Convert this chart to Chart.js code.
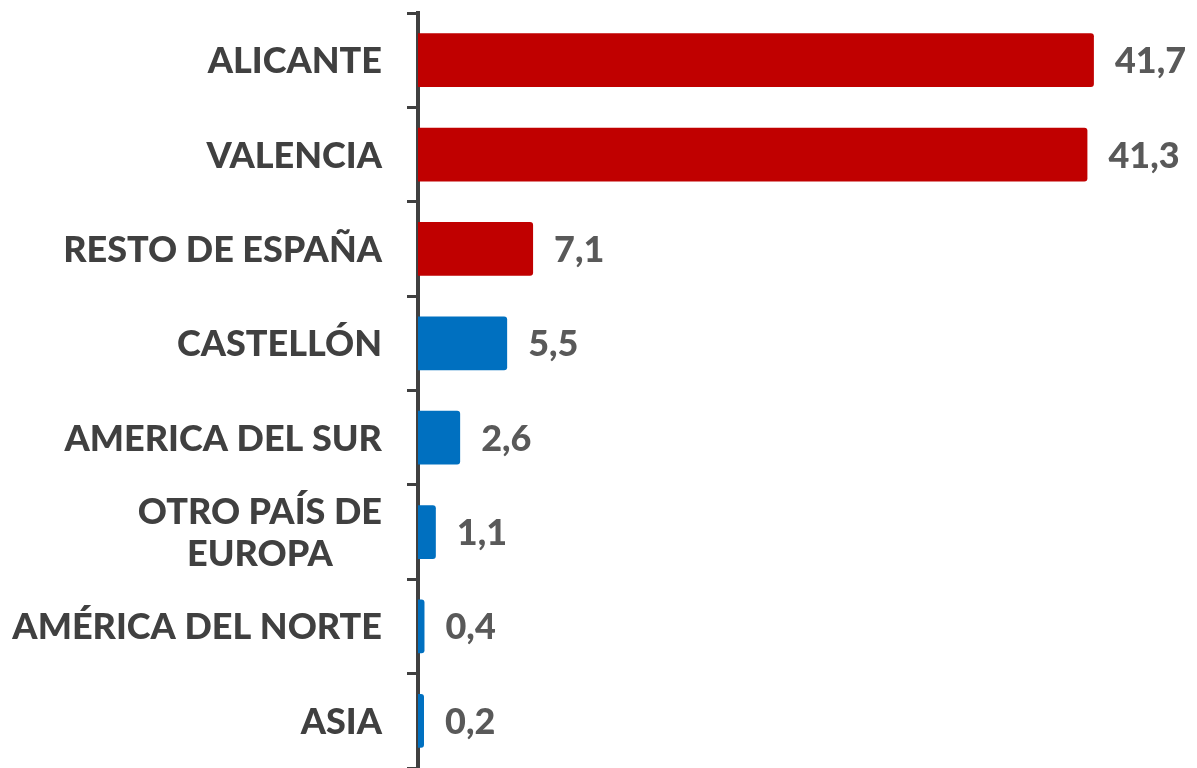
<!DOCTYPE html>
<html>
<head>
<meta charset="utf-8">
<script src="https://cdn.jsdelivr.net/npm/chart.js@4/dist/chart.umd.min.js"></script>
<style>
  html, body { margin: 0; padding: 0; background: #fff; }
  #wrap { width: 1197px; height: 768px; }
</style>
</head>
<body>
<div id="wrap"><canvas id="chart"></canvas></div>
<script>
const categories = ["ALICANTE", "VALENCIA", "RESTO DE ESPAÑA", "CASTELLÓN", "AMERICA DEL SUR", ["OTRO PAÍS DE", "EUROPA"], "AMÉRICA DEL NORTE", "ASIA"]
const values = [41.7, 41.3, 7.1, 5.5, 2.6, 1.1, 0.4, 0.2]
const barColors = ["#C00000", "#C00000", "#C00000", "#0070C0", "#0070C0", "#0070C0", "#0070C0", "#0070C0"]

const FONT = "Lato, 'Open Sans', sans-serif"
const LABEL_SIZE = 36
const AXIS_X = 418

// category labels: block right-aligned, lines centred inside the block
const categoryLabels = {
  id: 'categoryLabels',
  afterDraw(chart) {
    const { ctx } = chart
    const y = chart.scales.y
    ctx.save()
    ctx.font = `900 ${LABEL_SIZE}px ${FONT}`
    ctx.fillStyle = '#404040'
    ctx.textAlign = 'center'
    ctx.textBaseline = 'alphabetic'
    const capH = LABEL_SIZE * 0.72
    const lineH = 42
    const right = AXIS_X - 36
    categories.forEach((lab, i) => {
      const lines = Array.isArray(lab) ? lab : [lab]
      const w = Math.max(...lines.map(l => ctx.measureText(l).width))
      const cx = right - w / 2
      const cy = y.getPixelForValue(i)
      lines.forEach((l, j) => {
        const ly = cy + (j - (lines.length - 1) / 2) * lineH
        ctx.fillText(l, cx, ly + capH / 2)
      })
    })
    ctx.restore()
  }
}

// value labels right of each bar
const valueLabels = {
  id: 'valueLabels',
  afterDatasetsDraw(chart) {
    const { ctx } = chart
    const meta = chart.getDatasetMeta(0)
    ctx.save()
    ctx.font = `900 ${LABEL_SIZE}px ${FONT}`
    ctx.fillStyle = '#595959'
    ctx.textAlign = 'left'
    ctx.textBaseline = 'alphabetic'
    const capH = LABEL_SIZE * 0.72
    meta.data.forEach((bar, i) => {
      const txt = values[i].toFixed(1).replace('.', ',')
      ctx.fillText(txt, bar.x + 21, bar.y + capH / 2)
    })
    ctx.restore()
  }
}

new Chart(document.getElementById('chart'), {
  type: 'bar',
  data: {
    labels: categories,
    datasets: [{
      data: values,
      backgroundColor: barColors,
      borderRadius: 3,
      borderSkipped: 'start',
      categoryPercentage: 1.0,
      barPercentage: 0.57,
      minBarLength: 6
    }]
  },
  options: {
    indexAxis: 'y',
    responsive: true,
    maintainAspectRatio: false,
    animation: false,
    layout: { padding: { top: 13, right: 1, bottom: 0, left: 0 } },
    plugins: {
      legend: { display: false },
      tooltip: { enabled: false }
    },
    scales: {
      x: {
        display: false,
        min: 0,
        max: 48
      },
      y: {
        afterFit: scale => { scale.width = AXIS_X },
        border: { display: true, color: '#404040', width: 4 },
        grid: {
          display: true,
          drawOnChartArea: false,
          drawTicks: true,
          tickLength: 11,
          offset: true,
          color: '#404040',
          lineWidth: 3
        },
        ticks: { display: false }
      }
    }
  },
  plugins: [categoryLabels, valueLabels]
})
</script>
</body>
</html>
